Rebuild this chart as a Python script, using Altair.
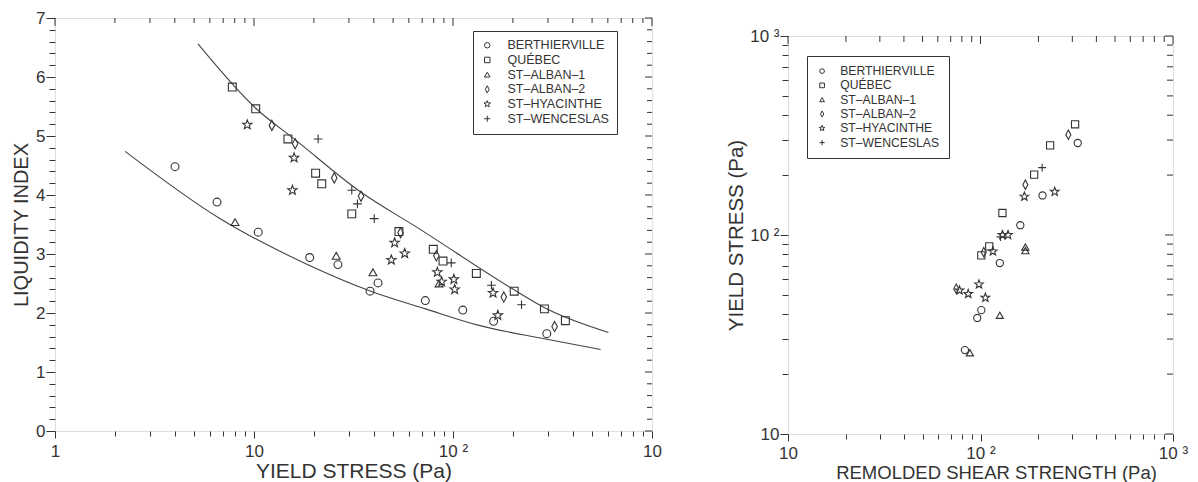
import math
import altair as alt
import pandas as pd

FONT = "Liberation Sans"
INK = "#333333"

SITES = ["BERTHIERVILLE", "QUÉBEC", "ST–ALBAN–1", "ST–ALBAN–2", "ST–HYACINTHE", "ST–WENCESLAS"]

# ---------------- Left panel: liquidity index vs yield stress (Pa) ----------------
L_BERTH_YS = [4.01, 6.52, 10.5, 19.05, 26.4, 38.3, 42.0, 72.6, 112, 160, 296]
L_BERTH_LI = [4.48, 3.88, 3.37, 2.94, 2.82, 2.37, 2.51, 2.21, 2.05, 1.86, 1.65]
L_QUEBEC_YS = [7.78, 10.2, 14.8, 20.4, 21.9, 31.0, 53.5, 79.6, 89.1, 131, 203, 288, 367]
L_QUEBEC_LI = [5.83, 5.46, 4.95, 4.37, 4.19, 3.68, 3.38, 3.08, 2.88, 2.67, 2.37, 2.07, 1.87]
L_ALBAN1_YS = [8.03, 25.9, 39.6, 85.1]
L_ALBAN1_LI = [3.54, 2.97, 2.69, 2.50]
L_ALBAN2_YS = [12.3, 16.1, 25.3, 34.5, 54.5, 82.5, 180, 324]
L_ALBAN2_LI = [5.18, 4.87, 4.29, 3.98, 3.36, 2.97, 2.27, 1.77]
L_HYAC_YS = [9.25, 15.9, 15.6, 50.9, 49.0, 57.2, 83.4, 87.7, 101, 102, 159, 168]
L_HYAC_LI = [5.19, 4.63, 4.08, 3.19, 2.90, 3.01, 2.69, 2.53, 2.57, 2.40, 2.34, 1.96]
L_WENC_YS = [21.0, 31.0, 33.1, 40.2, 98.0, 156, 221]
L_WENC_LI = [4.95, 4.08, 3.85, 3.60, 2.85, 2.47, 2.14]

UPPER_YS = [5.23, 10.2, 16.2, 34.4, 67.5, 199, 292, 604]
UPPER_LI = [6.56, 5.47, 4.93, 4.05, 3.43, 2.41, 2.08, 1.67]
LOWER_YS = [2.25, 6.67, 18.9, 38.6, 72.8, 135, 292, 552]
LOWER_LI = [4.74, 3.61, 2.81, 2.37, 2.07, 1.79, 1.56, 1.38]

# ---------------- Right panel: yield stress vs remolded shear strength (Pa) ----------------
R_BERTH_RSS = [320, 210, 161, 126, 101, 96.2, 83.0]
R_BERTH_YS = [290, 158, 112, 72.3, 41.9, 38.3, 26.4]
R_QUEBEC_RSS = [310, 230, 190, 130, 111, 101]
R_QUEBEC_YS = [360, 282, 201, 129, 87.7, 79]
R_ALBAN1_RSS = [171, 171, 126, 88.1]
R_ALBAN1_YS = [87, 83.5, 39.5, 25.6]
R_ALBAN2_RSS = [286, 171, 104, 74.8]
R_ALBAN2_YS = [319, 179, 82, 53.7]
R_HYAC_RSS = [243, 169, 130, 139, 116, 98.2, 77.8, 86.3, 106]
R_HYAC_YS = [165, 156, 100, 100, 82.8, 56.5, 52.7, 50.6, 48.4]
R_WENC_RSS = [209, 127]
R_WENC_YS = [218, 97.8]

# ---------------- Axis ticks and labels ----------------
LEFT_X_TICKS = [m * d for d in (1, 10, 100) for m in range(1, 10)] + [1000]
LEFT_X_LABELS = {1: "1", 10: "10", 100: "10 ²", 1000: "10"}
LEFT_Y_TICKS = [round(k * 0.2, 1) for k in range(36)]
LEFT_Y_LABELS = {k: str(k) for k in range(8)}
RIGHT_TICKS = [m * d for d in (10, 100) for m in range(1, 10)] + [1000]
RIGHT_LABELS = {10: "10", 100: "10 ²", 1000: "10 ³"}

# ---------------- sizes ----------------
LW, LH = 597, 413
RW, RH = 385, 398


def star_path(r_out=1.25, r_in=0.52):
    pts = []
    for k in range(10):
        r = r_out if k % 2 == 0 else r_in
        a = math.radians(-90 + 36 * k)
        pts.append(f"{r * math.cos(a):.3f},{r * math.sin(a):.3f}")
    return "M" + "L".join(pts) + "Z"


SHAPES = ["circle", "square", "triangle-up", "M0,-1.3L0.7,0L0,1.3L-0.7,0Z", star_path(),
          "M-1.1,0L1.1,0M0,-1.1L0,1.1"]


def label_expr(mapping):
    return "".join(f"datum.value == {v} ? '{t}' : " for v, t in mapping.items()) + "''"


def major_test(mapping):
    return " || ".join(f"datum.value == {v}" for v in mapping)


def make_points(groups, xname, yname):
    rows = []
    for site, xs, ys in groups:
        for a, b in zip(xs, ys):
            rows.append({xname: a, yname: b, "site": site})
    return pd.DataFrame(rows)


AX = dict(labelFont=FONT, labelFontSize=17, labelColor=INK, tickColor=INK, tickWidth=1,
          domain=False, grid=False, labelOverlap=False, titleFont=FONT, titleColor=INK,
          titleFontWeight="normal")

# ================= LEFT =================
df_left = make_points([
    (SITES[0], L_BERTH_YS, L_BERTH_LI), (SITES[1], L_QUEBEC_YS, L_QUEBEC_LI),
    (SITES[2], L_ALBAN1_YS, L_ALBAN1_LI), (SITES[3], L_ALBAN2_YS, L_ALBAN2_LI),
    (SITES[4], L_HYAC_YS, L_HYAC_LI), (SITES[5], L_WENC_YS, L_WENC_LI)], "ys", "li")

df_curves = pd.concat([
    pd.DataFrame({"ys": UPPER_YS, "li": UPPER_LI, "curve": "upper"}),
    pd.DataFrame({"ys": LOWER_YS, "li": LOWER_LI, "curve": "lower"})])

lx_scale = alt.Scale(type="log", domain=[1, 1000], nice=False)
ly_scale = alt.Scale(domain=[0, 7], nice=False, zero=False)

lx_axis = alt.Axis(values=LEFT_X_TICKS, labelExpr=label_expr(LEFT_X_LABELS),
                   tickSize={"condition": {"test": major_test(LEFT_X_LABELS), "value": 7}, "value": 5},
                   labelPadding=5, labelFlush=False, title="YIELD STRESS (Pa)", titleFontSize=21,
                   titlePadding=1, **AX)
ly_axis = alt.Axis(values=LEFT_Y_TICKS, labelExpr=label_expr(LEFT_Y_LABELS),
                   tickSize={"condition": {"test": major_test(LEFT_Y_LABELS), "value": 9}, "value": 6},
                   labelPadding=1, labelFlush=False, title="LIQUIDITY INDEX", titleFontSize=20,
                   titlePadding=4, **AX)

# inward ticks on top and right edges
lt_rows = [{"ys": t, "li": 7.0, "li2": 7.0 - (8 if t in LEFT_X_LABELS else 5) / (LH / 7.0)} for t in LEFT_X_TICKS]
lr_rows = [{"li": t, "ys": 1000.0, "ys2": 1000.0 / 10 ** ((7 if t in LEFT_Y_LABELS else 5) / (LW / 3.0))} for t in LEFT_Y_TICKS]

left_pts = alt.Chart(df_left).mark_point(filled=False, color=INK, strokeWidth=1.1, size=62, opacity=1).encode(
    x=alt.X("ys:Q", scale=lx_scale, axis=lx_axis),
    y=alt.Y("li:Q", scale=ly_scale, axis=ly_axis),
    shape=alt.Shape("site:N", scale=alt.Scale(domain=SITES, range=SHAPES), legend=alt.Legend(
        orient="none", legendX=418, legendY=13, title=None, labelFont=FONT, labelFontSize=12.5,
        labelColor=INK, symbolSize=30, symbolStrokeColor=INK, symbolStrokeWidth=1,
        strokeColor=INK, fillColor="white", padding=8, rowPadding=1.7, labelOffset=14,
        labelExpr="datum.label + '\u2002\u2002\u2002\u2002'")),
)
left_lines = alt.Chart(df_curves).mark_line(color="#444444", strokeWidth=1.1, interpolate="monotone").encode(
    x=alt.X("ys:Q", scale=lx_scale, axis=lx_axis),
    y=alt.Y("li:Q", scale=ly_scale, axis=ly_axis),
    detail="curve:N",
)
left_top = alt.Chart(pd.DataFrame(lt_rows)).mark_rule(color=INK, strokeWidth=1).encode(
    x=alt.X("ys:Q", scale=lx_scale, axis=lx_axis),
    y=alt.Y("li:Q", scale=ly_scale, axis=ly_axis), y2="li2:Q")
left_right = alt.Chart(pd.DataFrame(lr_rows)).mark_rule(color=INK, strokeWidth=1).encode(
    x=alt.X("ys:Q", scale=lx_scale, axis=lx_axis), x2="ys2:Q",
    y=alt.Y("li:Q", scale=ly_scale, axis=ly_axis))

left = alt.layer(left_lines, left_top, left_right, left_pts).properties(width=LW, height=LH)

# ================= RIGHT =================
df_right = make_points([
    (SITES[0], R_BERTH_RSS, R_BERTH_YS), (SITES[1], R_QUEBEC_RSS, R_QUEBEC_YS),
    (SITES[2], R_ALBAN1_RSS, R_ALBAN1_YS), (SITES[3], R_ALBAN2_RSS, R_ALBAN2_YS),
    (SITES[4], R_HYAC_RSS, R_HYAC_YS), (SITES[5], R_WENC_RSS, R_WENC_YS)], "rss", "ysr")

rx_scale = alt.Scale(type="log", domain=[10, 1000], nice=False)
ry_scale = alt.Scale(type="log", domain=[10, 1000], nice=False)

rx_axis = alt.Axis(values=RIGHT_TICKS, labelExpr=label_expr(RIGHT_LABELS),
                   tickSize={"condition": {"test": major_test(RIGHT_LABELS), "value": 7}, "value": 5},
                   labelPadding=4, labelFlush=False, title="REMOLDED SHEAR STRENGTH (Pa)",
                   titleFontSize=18.5, titlePadding=2, titleX=208, **AX)
ry_axis = alt.Axis(values=RIGHT_TICKS, labelExpr=label_expr(RIGHT_LABELS),
                   tickSize={"condition": {"test": major_test(RIGHT_LABELS), "value": 8}, "value": 6},
                   labelPadding=1, labelFlush=False, title="YIELD STRESS (Pa)", titleFontSize=20.5,
                   titlePadding=3, **AX)

rt_rows = [{"rss": t, "ysr": 1000.0, "ysr2": 1000.0 / 10 ** ((8 if t in RIGHT_LABELS else 6) / (RH / 2.0))} for t in RIGHT_TICKS]
rr_rows = [{"ysr": t, "rss": 1000.0, "rss2": 1000.0 / 10 ** ((8 if t in RIGHT_LABELS else 6) / (RW / 2.0))} for t in RIGHT_TICKS]

right_pts = alt.Chart(df_right).mark_point(filled=False, color=INK, strokeWidth=1.1, size=52, opacity=1).encode(
    x=alt.X("rss:Q", scale=rx_scale, axis=rx_axis),
    y=alt.Y("ysr:Q", scale=ry_scale, axis=ry_axis),
    shape=alt.Shape("site:N", scale=alt.Scale(domain=SITES, range=SHAPES), legend=alt.Legend(
        orient="none", legendX=19, legendY=38, title=None, labelFont=FONT, labelFontSize=12.2,
        labelColor=INK, symbolSize=22, symbolStrokeColor=INK, symbolStrokeWidth=1,
        strokeColor=INK, fillColor="white", padding=9, rowPadding=1.3, labelOffset=12,
        labelExpr="datum.label + '\u2002\u2002\u2002'")),
)
right_top = alt.Chart(pd.DataFrame(rt_rows)).mark_rule(color=INK, strokeWidth=1).encode(
    x=alt.X("rss:Q", scale=rx_scale, axis=rx_axis),
    y=alt.Y("ysr:Q", scale=ry_scale, axis=ry_axis), y2="ysr2:Q")
right_right = alt.Chart(pd.DataFrame(rr_rows)).mark_rule(color=INK, strokeWidth=1).encode(
    x=alt.X("rss:Q", scale=rx_scale, axis=rx_axis), x2="rss2:Q",
    y=alt.Y("ysr:Q", scale=ry_scale, axis=ry_axis))

right = alt.layer(right_top, right_right, right_pts).properties(width=RW, height=RH)

spacer = alt.Chart(pd.DataFrame({"v": [0]})).mark_point(opacity=0).properties(
    width=RW, height=18, view=alt.ViewBackground(stroke="transparent"))

right_col = alt.vconcat(spacer, right, spacing=0, bounds="flush")

chart = alt.hconcat(left, right_col, spacing=136, bounds="flush").resolve_scale(
    x="independent", y="independent", shape="independent").resolve_legend(
    shape="independent").properties(
    padding={"left": 11, "top": 8, "right": 5, "bottom": 5}).configure_view(
    stroke=INK, strokeWidth=1).configure(font=FONT)

chart.save("out.html", embed_options={"renderer": "svg", "actions": False})
